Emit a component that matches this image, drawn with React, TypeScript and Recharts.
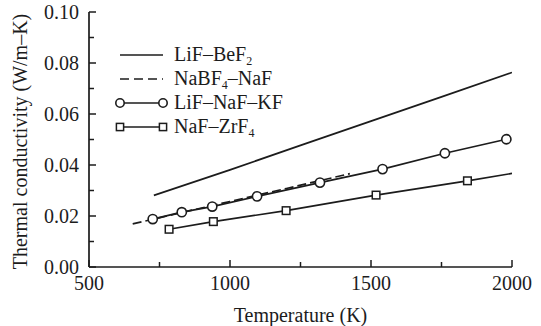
import React from 'react';
import { LineChart, Line, XAxis, YAxis, Legend } from 'recharts';

const FONT = '"Liberation Serif", "DejaVu Serif", "Times New Roman", serif';
const INK = '#1c1c1c';
const FS = 20;

// LiF–BeF2 (solid, no markers)
const beTemps = [730, 1000, 1250, 1500, 1750, 2000];
const beVals = [0.0281, 0.0381, 0.0477, 0.0572, 0.0667, 0.0763];

// NaBF4–NaF (dashed)
const nabTemps = [655, 800, 1000, 1200, 1425];
const nabVals = [0.0169, 0.0206, 0.0257, 0.0308, 0.0366];

// LiF–NaF–KF (circles)
const kfTemps = [726, 829, 937, 1096, 1319, 1541, 1762, 1980];
const kfVals = [0.0188, 0.0215, 0.0237, 0.0277, 0.0331, 0.0384, 0.0446, 0.0501];

// NaF–ZrF4 (squares); last point is line end only
const zrTemps = [784, 941, 1199, 1518, 1842, 2000];
const zrVals = [0.0148, 0.0178, 0.0221, 0.0282, 0.0338, 0.0367];
const zrMarked = [true, true, true, true, true, false];

const xTicks = [500, 750, 1000, 1250, 1500, 1750, 2000];
const xLabeled = [500, 1000, 1500, 2000];
const yTicks = [0, 0.01, 0.02, 0.03, 0.04, 0.05, 0.06, 0.07, 0.08, 0.09, 0.1];
const yLabeled = [0, 0.02, 0.04, 0.06, 0.08, 0.1];

const toRows = (ts: number[], vs: number[], marks?: boolean[]) =>
  ts.map((t, i) => ({ t, v: vs[i], m: marks ? marks[i] : true }));

const beData = toRows(beTemps, beVals);
const nabData = toRows(nabTemps, nabVals);
const kfData = toRows(kfTemps, kfVals);
const zrData = toRows(zrTemps, zrVals, zrMarked);

const isLabeledX = (v: number) => xLabeled.some((l) => Math.abs(l - v) < 1e-6);
const isLabeledY = (v: number) => yLabeled.some((l) => Math.abs(l - v) < 1e-9);

const BottomTick = (p: any) => {
  const { x, y, payload } = p;
  const major = isLabeledX(payload.value);
  return (
    <g>
      <line x1={x} y1={y} x2={x} y2={y - (major ? 7 : 5)} stroke={INK} strokeWidth={1.5} />
      {major && (
        <text x={x} y={y + 23} textAnchor="middle" fontFamily={FONT} fontSize={FS} fill={INK}>
          {payload.value}
        </text>
      )}
    </g>
  );
};

const TopTick = (p: any) => {
  const { x, y, payload } = p;
  const major = isLabeledX(payload.value);
  return <line x1={x} y1={y} x2={x} y2={y + (major ? 7 : 5)} stroke={INK} strokeWidth={1.5} />;
};

const LeftTick = (p: any) => {
  const { x, y, payload } = p;
  const major = isLabeledY(payload.value);
  return (
    <g>
      <line x1={x} y1={y} x2={x + (major ? 7 : 5)} y2={y} stroke={INK} strokeWidth={1.5} />
      {major && (
        <text x={x - 10} y={y + 7} textAnchor="end" fontFamily={FONT} fontSize={FS} fill={INK}>
          {payload.value.toFixed(2)}
        </text>
      )}
    </g>
  );
};

const RightTick = (p: any) => {
  const { x, y, payload } = p;
  const major = isLabeledY(payload.value);
  return <line x1={x} y1={y} x2={x - (major ? 7 : 5)} y2={y} stroke={INK} strokeWidth={1.5} />;
};

const CircleDot = (p: any) => {
  const { cx, cy, payload, index } = p;
  if (!payload || !payload.m || cx == null || cy == null) return <g key={`c${index}`} />;
  return <circle key={`c${index}`} cx={cx} cy={cy} r={4.6} fill="#fff" stroke={INK} strokeWidth={1.6} />;
};

const SquareDot = (p: any) => {
  const { cx, cy, payload, index } = p;
  if (!payload || !payload.m || cx == null || cy == null) return <g key={`s${index}`} />;
  return <rect key={`s${index}`} x={cx - 3.8} y={cy - 3.8} width={7.6} height={7.6} fill="#fff" stroke={INK} strokeWidth={1.5} />;
};

const LegendBox = () => {
  const rows = [17, 41, 65, 89];
  const x1 = 10;
  const x2 = 53;
  const tx = 64;
  const ts = { fontFamily: FONT, fontSize: FS, fill: INK } as const;
  return (
    <svg width={220} height={110} style={{ display: 'block' }}>
      <line x1={x1} y1={rows[0]} x2={x2} y2={rows[0]} stroke={INK} strokeWidth={1.7} />
      <text x={tx} y={rows[0] + 6} {...ts}>
        LiF–BeF<tspan fontSize={12} dy={4}>2</tspan>
      </text>
      <line x1={x1} y1={rows[1]} x2={x2} y2={rows[1]} stroke={INK} strokeWidth={1.7} strokeDasharray="9 5" />
      <text x={tx} y={rows[1] + 6} {...ts}>
        NaBF<tspan fontSize={12} dy={4}>4</tspan>
        <tspan dy={-4}>–NaF</tspan>
      </text>
      <line x1={x1} y1={rows[2]} x2={x2} y2={rows[2]} stroke={INK} strokeWidth={1.7} />
      <circle cx={x1} cy={rows[2]} r={4.2} fill="#fff" stroke={INK} strokeWidth={1.6} />
      <circle cx={x2} cy={rows[2]} r={4.2} fill="#fff" stroke={INK} strokeWidth={1.6} />
      <text x={tx} y={rows[2] + 6} {...ts}>LiF–NaF–KF</text>
      <line x1={x1} y1={rows[3]} x2={x2} y2={rows[3]} stroke={INK} strokeWidth={1.7} />
      <rect x={x1 - 3.6} y={rows[3] - 3.6} width={7.2} height={7.2} fill="#fff" stroke={INK} strokeWidth={1.5} />
      <rect x={x2 - 3.6} y={rows[3] - 3.6} width={7.2} height={7.2} fill="#fff" stroke={INK} strokeWidth={1.5} />
      <text x={tx} y={rows[3] + 6} {...ts}>
        NaF–ZrF<tspan fontSize={12} dy={4}>4</tspan>
      </text>
    </svg>
  );
};

const XLabel = (p: any) => {
  const vb = p.viewBox || {};
  return (
    <text x={vb.x + vb.width / 2} y={vb.y + 55} textAnchor="middle" fontFamily={FONT} fontSize={FS} fill={INK}>
      Temperature (K)
    </text>
  );
};

const YLabel = (p: any) => {
  const vb = p.viewBox || {};
  const cy = vb.y + vb.height / 2 + 2;
  return (
    <text x={20} y={cy} transform={`rotate(-90, 20, ${cy})`} textAnchor="middle" dominantBaseline="central" fontFamily={FONT} fontSize={FS} fill={INK}>
      Thermal conductivity (W/m–K)
    </text>
  );
};

export default function App() {
  const axisLine = { stroke: INK, strokeWidth: 1.7 };
  return (
    <div style={{ position: 'absolute', left: 0, top: 0, width: 541, height: 326, background: '#fff' }}>
      <LineChart width={541} height={326} margin={{ top: 12, right: 29, bottom: 0, left: 0 }}>
        <XAxis
          xAxisId="b"
          type="number"
          dataKey="t"
          domain={[500, 2000]}
          ticks={xTicks}
          orientation="bottom"
          height={59}
          tickSize={0}
          tickMargin={0}
          tickLine={false}
          axisLine={axisLine}
          tick={<BottomTick />}
          interval={0}
          allowDataOverflow
          label={<XLabel />}
        />
        <XAxis
          xAxisId="t"
          type="number"
          dataKey="t"
          domain={[500, 2000]}
          ticks={xTicks}
          orientation="top"
          height={0}
          tickSize={0}
          tickMargin={0}
          tickLine={false}
          axisLine={axisLine}
          tick={<TopTick />}
          interval={0}
          allowDataOverflow
        />
        <YAxis
          yAxisId="l"
          type="number"
          dataKey="v"
          domain={[0, 0.1]}
          ticks={yTicks}
          orientation="left"
          width={89}
          tickSize={0}
          tickMargin={0}
          tickLine={false}
          axisLine={axisLine}
          tick={<LeftTick />}
          interval={0}
          allowDataOverflow
          label={<YLabel />}
        />
        <YAxis
          yAxisId="r"
          type="number"
          dataKey="v"
          domain={[0, 0.1]}
          ticks={yTicks}
          orientation="right"
          width={0}
          tickSize={0}
          tickMargin={0}
          tickLine={false}
          axisLine={axisLine}
          tick={<RightTick />}
          interval={0}
          allowDataOverflow
        />
        <Legend
          layout="vertical"
          align="center"
          verticalAlign="middle"
          wrapperStyle={{ position: 'absolute', left: 110, top: 38, width: 220, height: 110 }}
          content={() => <LegendBox />}
        />
        <Line xAxisId="b" yAxisId="l" data={beData} dataKey="v" name="LiF–BeF2" stroke={INK} strokeWidth={1.7} dot={false} isAnimationActive={false} />
        <Line xAxisId="b" yAxisId="l" data={nabData} dataKey="v" name="NaBF4–NaF" stroke={INK} strokeWidth={1.7} strokeDasharray="9 4" dot={false} isAnimationActive={false} />
        <Line xAxisId="b" yAxisId="l" data={kfData} dataKey="v" name="LiF–NaF–KF" stroke={INK} strokeWidth={1.7} dot={<CircleDot />} isAnimationActive={false} />
        <Line xAxisId="b" yAxisId="l" data={zrData} dataKey="v" name="NaF–ZrF4" stroke={INK} strokeWidth={1.7} dot={<SquareDot />} isAnimationActive={false} />
      </LineChart>
    </div>
  );
}
